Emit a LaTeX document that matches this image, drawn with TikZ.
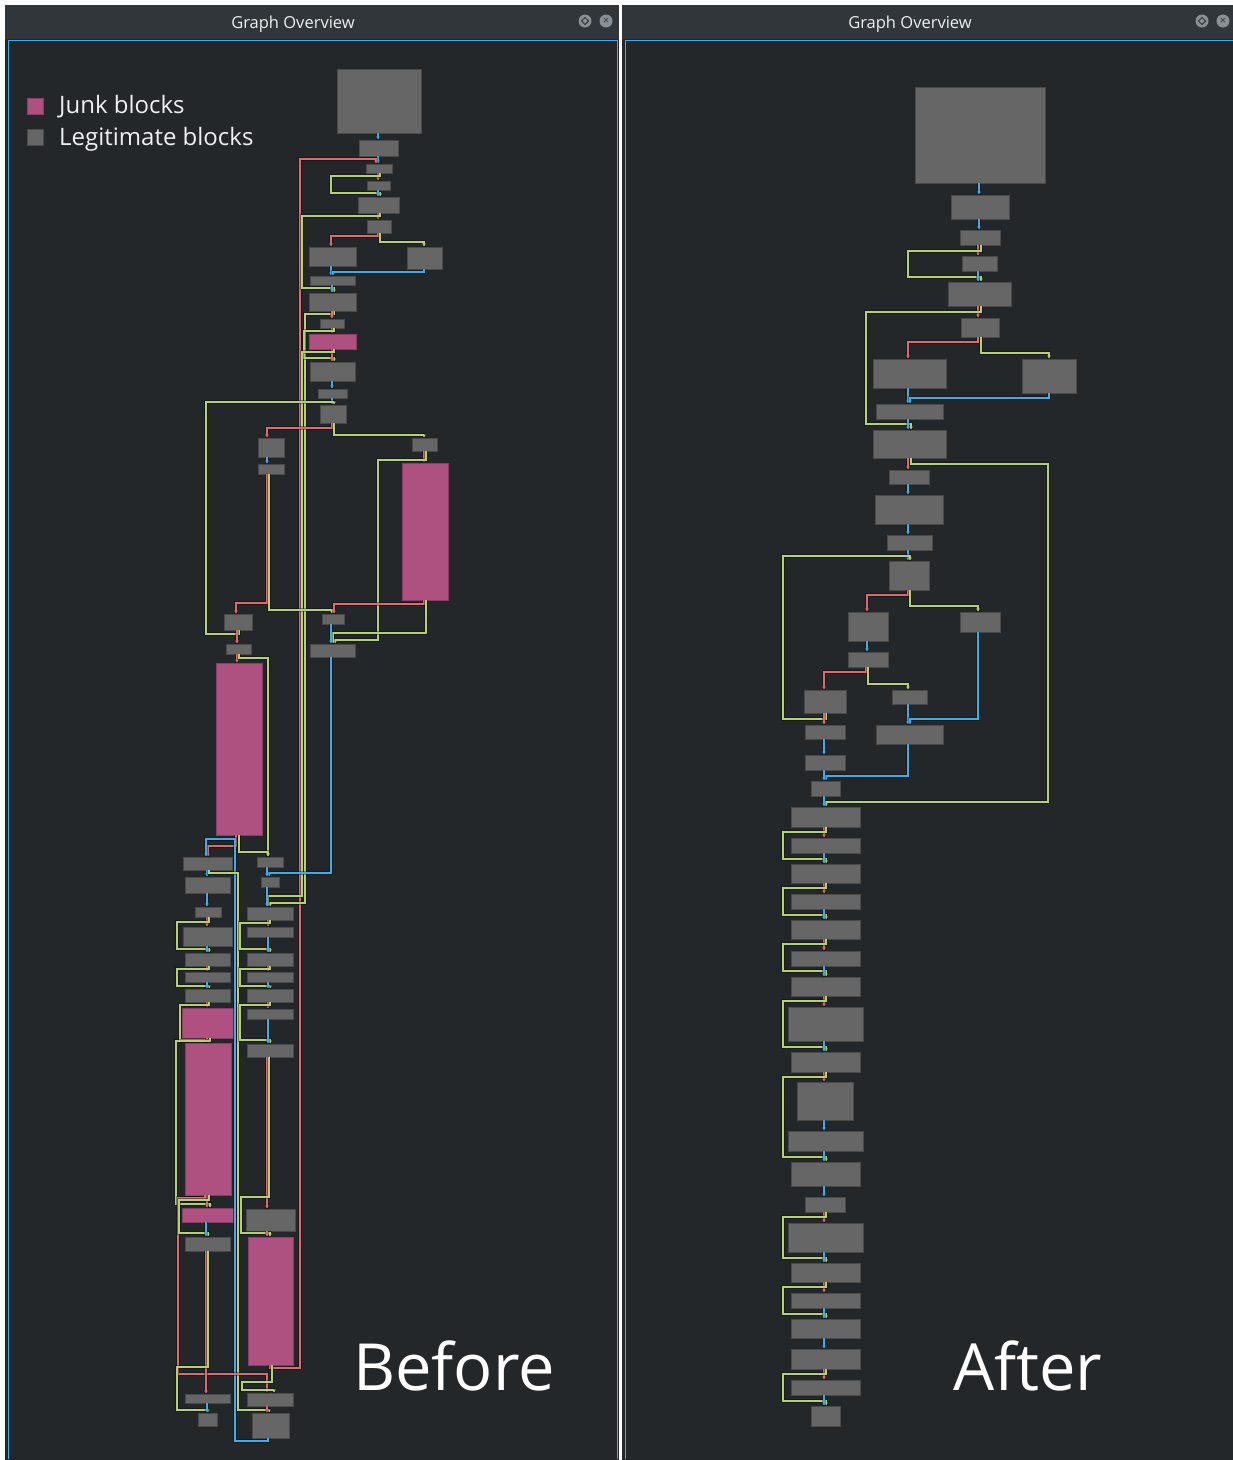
\documentclass[tikz,border=0pt]{standalone}
\usepackage{fontspec}
\setmainfont{Open Sans}
\usepackage{xcolor}
\usetikzlibrary{arrows.meta,positioning,fit}
\definecolor{viewbg}{HTML}{24272A}
\definecolor{titlebar}{HTML}{31363B}
\definecolor{framecyan}{HTML}{3DAEE9}
\definecolor{titletext}{HTML}{EFF0F1}
\definecolor{btngray}{HTML}{8A9094}
\definecolor{legitfill}{HTML}{666666}
\definecolor{legitline}{HTML}{4A4A4A}
\definecolor{junkfill}{HTML}{AE5181}
\definecolor{junkline}{HTML}{8A3D66}
\definecolor{edgered}{HTML}{DE6A6E}
\definecolor{edgegreen}{HTML}{B6D26C}
\definecolor{edgeblue}{HTML}{3DAEE9}
\tikzset{
  legit/.style={
    rectangle, draw=legitline, fill=legitfill, line width=0.8pt,
    inner sep=0pt
  },
  junk/.style={
    rectangle, draw=junkline, fill=junkfill, line width=0.8pt,
    inner sep=0pt
  },
  flowedge/.style={
    line width=1.7pt, -{Latex[length=3pt,width=4pt]},
    preaction={draw=black, opacity=0.35, line width=3.2pt, arrows=-}
  },
  redge/.style={flowedge, color=edgered},
  gedge/.style={flowedge, color=edgegreen},
  bedge/.style={flowedge, color=edgeblue},
  paneltitle/.style={
    text=titletext, inner sep=0pt, anchor=base,
    font=\fontsize{16.5}{19}\selectfont
  },
  winbtn/.style={circle, fill=btngray, minimum size=13pt, inner sep=0pt},
  keytext/.style={
    text=titletext, inner sep=0pt, anchor=base west,
    font=\fontsize{24}{27}\selectfont
  },
  bigword/.style={
    text=white, inner sep=0pt, anchor=base west,
    font=\fontsize{65}{70}\selectfont
  },
}
\begin{document}
\begin{tikzpicture}[x=1pt, y=-1pt]
  \useasboundingbox (0,0) rectangle (1233,1460);
  \fill[white] (0,0) rectangle (1233,1460);
  \fill[titlebar] (5,5) rectangle (619,39);
  \fill[viewbg] (5,39) rectangle (619,1460);
  \draw[framecyan, line width=1pt] (8,1459) -- (8,40) -- (617,40) -- (617,1459);
  \fill[titlebar] (622,5) rectangle (1233,39);
  \fill[viewbg] (622,39) rectangle (1233,1460);
  \draw[framecyan, line width=1pt] (625,1459) -- (625,40) -- (1233,40);

  \node[paneltitle] (lefttitle) at (293,28) {Graph Overview};
  \node[winbtn] (leftfloat) at (585,21) {};
  \node[winbtn] (leftclose) at (606,21) {\fontsize{11}{11}\selectfont\color{titlebar}×};
  \node[draw=titlebar, line width=1pt, rotate=45, minimum size=5pt, inner sep=0pt] at (leftfloat) {};
  \node[paneltitle] (righttitle) at (910,28) {Graph Overview};
  \node[winbtn] (rightfloat) at (1202,21) {};
  \node[winbtn] (rightclose) at (1223,21) {\fontsize{11}{11}\selectfont\color{titlebar}×};
  \node[draw=titlebar, line width=1pt, rotate=45, minimum size=5pt, inner sep=0pt] at (rightfloat) {};

  \node[junk, fit={(27,98)(43,114)}] (keyjunk) {};
  \node[legit, fit={(27,129)(43,145)}] (keylegit) {};
  \node[keytext] (keyjunktext) at (59,113) {Junk blocks};
  \node[keytext] (keylegittext) at (59,145) {Legitimate blocks};

  \node[bigword] (beforeword) at (353,1390) {Before};
  \node[bigword] (afterword) at (953,1390) {After};

  \node[legit, fit={(337,69)(421,133)}] (b1) {};
  \node[legit, fit={(359,140)(398,156)}] (b2) {};
  \node[legit, fit={(366,164)(392,173)}] (b3) {};
  \node[legit, fit={(367,181)(390,190)}] (b4) {};
  \node[legit, fit={(358,197)(399,213)}] (b5) {};
  \node[legit, fit={(367,220)(391,233)}] (b6) {};
  \node[legit, fit={(309,247)(356,266)}] (b7) {};
  \node[legit, fit={(407,247)(442,269)}] (b8) {};
  \node[legit, fit={(310,276)(355,285)}] (b9) {};
  \node[legit, fit={(309,293)(356,311)}] (b10) {};
  \node[legit, fit={(320,319)(344,328)}] (b11) {};
  \node[junk, fit={(309,334)(356,349)}] (j1) {};
  \node[legit, fit={(310,362)(355,381)}] (b12) {};
  \node[legit, fit={(318,389)(347,398)}] (b13) {};
  \node[legit, fit={(320,405)(346,423)}] (b14) {};
  \node[legit, fit={(258,438)(284,457)}] (b15) {};
  \node[legit, fit={(412,438)(437,451)}] (b16) {};
  \node[legit, fit={(258,464)(284,474)}] (b17) {};
  \node[junk, fit={(402,463)(448,600)}] (j2) {};
  \node[legit, fit={(224,614)(252,630)}] (b18) {};
  \node[legit, fit={(322,614)(344,624)}] (b19) {};
  \node[legit, fit={(226,644)(251,654)}] (b20) {};
  \node[legit, fit={(310,644)(355,657)}] (b21) {};
  \node[junk, fit={(216,663)(262,835)}] (j3) {};
  \node[legit, fit={(183,857)(232,870)}] (b22) {};
  \node[legit, fit={(257,857)(283,867)}] (b23) {};
  \node[legit, fit={(185,877)(230,893)}] (b24) {};
  \node[legit, fit={(261,877)(279,887)}] (b25) {};
  \node[legit, fit={(195,907)(221,917)}] (b26) {};
  \node[legit, fit={(247,907)(293,920)}] (b27) {};
  \node[legit, fit={(183,927)(232,946)}] (b28) {};
  \node[legit, fit={(247,927)(293,937)}] (b29) {};
  \node[legit, fit={(185,953)(230,966)}] (b30) {};
  \node[legit, fit={(247,953)(293,966)}] (b31) {};
  \node[legit, fit={(185,972)(230,982)}] (b32) {};
  \node[legit, fit={(247,972)(293,982)}] (b33) {};
  \node[legit, fit={(185,989)(230,1002)}] (b34) {};
  \node[legit, fit={(247,989)(293,1002)}] (b35) {};
  \node[junk, fit={(182,1008)(233,1038)}] (j4) {};
  \node[legit, fit={(247,1009)(293,1019)}] (b36) {};
  \node[junk, fit={(185,1043)(231,1195)}] (j5) {};
  \node[legit, fit={(247,1044)(293,1057)}] (b37) {};
  \node[junk, fit={(182,1208)(233,1222)}] (j6) {};
  \node[legit, fit={(246,1209)(295,1231)}] (b38) {};
  \node[legit, fit={(185,1237)(230,1251)}] (b39) {};
  \node[junk, fit={(248,1237)(293,1365)}] (j7) {};
  \node[legit, fit={(185,1394)(230,1403)}] (b40) {};
  \node[legit, fit={(247,1393)(293,1406)}] (b41) {};
  \node[legit, fit={(198,1413)(217,1426)}] (b42) {};
  \node[legit, fit={(252,1413)(289,1438)}] (b43) {};

  \draw[bedge] (b1.south -| 378,0) -- (b2.north -| 378,0);
  \draw[bedge] (b2.south -| 378,0) -- (b3.north -| 378,0);
  \draw[redge] (j7.south -| 270,0) -- (270,1368) -- (300,1368) -- (300,159) -- (376,159) -- (b3.north -| 376,0);
  \draw[redge] (b3.south -| 378,0) -- (b4.north -| 378,0);
  \draw[gedge] (b3.south -| 380,0) -- (380,176) -- (331,176) -- (331,193) -- (380,193) -- (b5.north -| 380,0);
  \draw[bedge] (b4.south -| 378,0) -- (b5.north -| 378,0);
  \draw[redge] (b5.south -| 378,0) -- (b6.north -| 378,0);
  \draw[gedge] (b5.south -| 380,0) -- (380,216) -- (302,216) -- (302,288) -- (334,288) -- (b10.north -| 334,0);
  \draw[redge] (b6.south -| 378,0) -- (378,236) -- (331,236) -- (b7.north -| 331,0);
  \draw[gedge] (b6.south -| 380,0) -- (380,242) -- (424,242) -- (b8.north -| 424,0);
  \draw[bedge] (b7.south -| 331,0) -- (b9.north -| 331,0);
  \draw[bedge] (b8.south -| 424,0) -- (424,272) -- (333,272) -- (b9.north -| 333,0);
  \draw[bedge] (b9.south -| 332,0) -- (b10.north -| 332,0);
  \draw[gedge] (b10.south -| 334,0) -- (334,314) -- (305,314) -- (305,903) -- (270,903) -- (b27.north -| 270,0);
  \draw[redge] (b10.south -| 332,0) -- (b11.north -| 332,0);
  \draw[redge] (b11.south -| 332,0) -- (j1.north -| 332,0);
  \draw[gedge] (b11.south -| 334,0) -- (334,331) -- (304,331) -- (304,358) -- (334,358) -- (b12.north -| 334,0);
  \draw[redge] (j1.south -| 332,0) -- (b12.north -| 332,0);
  \draw[gedge] (j1.south -| 334,0) -- (334,352) -- (302,352) -- (302,896) -- (268,896) -- (b27.north -| 268,0);
  \draw[bedge] (b12.south -| 332,0) -- (b13.north -| 332,0);
  \draw[bedge] (b13.south -| 332,0) -- (b14.north -| 332,0);
  \draw[gedge] (b18.south -| 239,0) -- (239,634) -- (206,634) -- (206,402) -- (334,402) -- (b14.north -| 334,0);
  \draw[redge] (b14.south -| 332,0) -- (332,428) -- (267,428) -- (b15.north -| 267,0);
  \draw[gedge] (b14.south -| 334,0) -- (334,435) -- (424,435) -- (b16.north -| 424,0);
  \draw[bedge] (b15.south -| 267,0) -- (b17.north -| 267,0);
  \draw[redge] (b17.south -| 267,0) -- (267,603) -- (236,603) -- (b18.north -| 236,0);
  \draw[gedge] (b17.south -| 269,0) -- (269,610) -- (332,610) -- (b19.north -| 332,0);
  \draw[redge] (b16.south -| 424,0) -- (j2.north -| 424,0);
  \draw[gedge] (b16.south -| 426,0) -- (426,460) -- (378,460) -- (378,640) -- (335,640) -- (b21.north -| 335,0);
  \draw[redge] (j2.south -| 424,0) -- (424,604) -- (334,604) -- (b19.north -| 334,0);
  \draw[gedge] (j2.south -| 426,0) -- (426,633) -- (333,633) -- (b21.north -| 333,0);
  \draw[bedge] (b19.south -| 331,0) -- (b21.north -| 331,0);
  \draw[redge] (b18.south -| 237,0) -- (b20.north -| 237,0);
  \draw[redge] (b20.south -| 237,0) -- (j3.north -| 237,0);
  \draw[gedge] (b20.south -| 239,0) -- (239,658) -- (268,658) -- (268,852) -- (b23.north -| 268,0);
  \draw[gedge] (j3.south -| 239,0) -- (239,852) -- (268,852) -- (b23.north -| 268,0);
  \draw[redge] (j3.south -| 236,0) -- (236,846) -- (208,846) -- (b22.north -| 208,0);
  \draw[bedge] (b43.south -| 268,0) -- (268,1441) -- (235,1441) -- (235,839) -- (206,839) -- (b22.north -| 206,0);
  \draw[bedge] (b21.south -| 331,0) -- (331,873) -- (269,873) -- (b25.north -| 269,0);
  \draw[bedge] (b23.south -| 267,0) -- (b25.north -| 267,0);
  \draw[bedge] (b22.south -| 207,0) -- (b24.north -| 207,0);
  \draw[gedge] (b22.south -| 209,0) -- (209,873) -- (238,873) -- (238,1410) -- (269,1410) -- (b43.north -| 269,0);
  \draw[bedge] (b25.south -| 267,0) -- (b27.north -| 267,0);
  \draw[bedge] (b24.south -| 207,0) -- (b26.north -| 207,0);
  \draw[redge] (b26.south -| 207,0) -- (b28.north -| 207,0);
  \draw[gedge] (b26.south -| 209,0) -- (209,922) -- (177,922) -- (177,949) -- (209,949) -- (b30.north -| 209,0);
  \draw[bedge] (b28.south -| 207,0) -- (b30.north -| 207,0);
  \draw[redge] (b30.south -| 207,0) -- (b32.north -| 207,0);
  \draw[gedge] (b30.south -| 209,0) -- (209,969) -- (177,969) -- (177,986) -- (209,986) -- (b34.north -| 209,0);
  \draw[bedge] (b32.south -| 207,0) -- (b34.north -| 207,0);
  \draw[redge] (b34.south -| 207,0) -- (j4.north -| 207,0);
  \draw[gedge] (b34.south -| 209,0) -- (209,1005) -- (180,1005) -- (180,1040) -- (209,1040) -- (j5.north -| 209,0);
  \draw[redge] (j4.south -| 207,0) -- (j5.north -| 207,0);
  \draw[gedge] (j4.south -| 210,0) -- (210,1041) -- (176,1041) -- (176,1204) -- (210,1204) -- (j6.north -| 210,0);
  \draw[redge] (j5.south -| 207,0) -- (j6.north -| 207,0);
  \draw[redge] (j5.south -| 205,0) -- (205,1198) -- (178,1198) -- (178,1374) -- (267,1374) -- (b41.north -| 267,0);
  \draw[gedge] (j5.south -| 209,0) -- (209,1200) -- (179,1200) -- (179,1233) -- (208,1233) -- (b39.north -| 208,0);
  \draw[bedge] (j6.south -| 206,0) -- (b39.north -| 206,0);
  \draw[redge] (b39.south -| 206,0) -- (b40.north -| 206,0);
  \draw[gedge] (b39.south -| 208,0) -- (208,1367) -- (177,1367) -- (177,1410) -- (208,1410) -- (b42.north -| 208,0);
  \draw[bedge] (b40.south -| 207,0) -- (b42.north -| 207,0);
  \draw[redge] (b27.south -| 268,0) -- (b29.north -| 268,0);
  \draw[gedge] (b27.south -| 270,0) -- (270,923) -- (240,923) -- (240,949) -- (270,949) -- (b31.north -| 270,0);
  \draw[bedge] (b29.south -| 268,0) -- (b31.north -| 268,0);
  \draw[redge] (b31.south -| 268,0) -- (b33.north -| 268,0);
  \draw[gedge] (b31.south -| 270,0) -- (270,969) -- (240,969) -- (240,986) -- (270,986) -- (b35.north -| 270,0);
  \draw[bedge] (b33.south -| 268,0) -- (b35.north -| 268,0);
  \draw[redge] (b35.south -| 268,0) -- (b36.north -| 268,0);
  \draw[gedge] (b35.south -| 270,0) -- (270,1005) -- (240,1005) -- (240,1040) -- (270,1040) -- (b37.north -| 270,0);
  \draw[bedge] (b36.south -| 268,0) -- (b37.north -| 268,0);
  \draw[redge] (b37.south -| 267,0) -- (b38.north -| 267,0);
  \draw[gedge] (b37.south -| 269,0) -- (269,1197) -- (241,1197) -- (241,1233) -- (270,1233) -- (j7.north -| 270,0);
  \draw[redge] (b38.south -| 267,0) -- (j7.north -| 267,0);
  \draw[gedge] (j7.south -| 272,0) -- (272,1382) -- (242,1382) -- (242,1390) -- (274,1390) -- (b41.north -| 274,0);
  \draw[redge] (b41.south -| 267,0) -- (b43.north -| 267,0);

  \node[legit, fit={(915,87)(1045,183)}] (a1) {};
  \node[legit, fit={(951,195)(1009,219)}] (a2) {};
  \node[legit, fit={(960,230)(1000,245)}] (a3) {};
  \node[legit, fit={(962,256)(997,271)}] (a4) {};
  \node[legit, fit={(948,282)(1011,306)}] (a5) {};
  \node[legit, fit={(961,318)(999,337)}] (a6) {};
  \node[legit, fit={(873,359)(946,388)}] (a7) {};
  \node[legit, fit={(1022,359)(1076,393)}] (a8) {};
  \node[legit, fit={(876,404)(943,419)}] (a9) {};
  \node[legit, fit={(873,430)(946,458)}] (a10) {};
  \node[legit, fit={(889,470)(929,484)}] (a11) {};
  \node[legit, fit={(875,495)(943,524)}] (a12) {};
  \node[legit, fit={(887,535)(932,550)}] (a13) {};
  \node[legit, fit={(889,561)(929,590)}] (a14) {};
  \node[legit, fit={(848,612)(888,641)}] (a15) {};
  \node[legit, fit={(960,612)(1000,632)}] (a16) {};
  \node[legit, fit={(848,652)(888,667)}] (a17) {};
  \node[legit, fit={(804,690)(846,713)}] (a18) {};
  \node[legit, fit={(892,690)(927,704)}] (a19) {};
  \node[legit, fit={(805,725)(845,739)}] (a20) {};
  \node[legit, fit={(876,725)(943,744)}] (a21) {};
  \node[legit, fit={(805,755)(845,770)}] (a22) {};
  \node[legit, fit={(811,781)(840,796)}] (a23) {};
  \node[legit, fit={(791,807)(860,827)}] (a24) {};
  \node[legit, fit={(791,838)(860,853)}] (a25) {};
  \node[legit, fit={(791,864)(860,883)}] (a26) {};
  \node[legit, fit={(791,894)(860,909)}] (a27) {};
  \node[legit, fit={(791,920)(860,939)}] (a28) {};
  \node[legit, fit={(791,951)(860,966)}] (a29) {};
  \node[legit, fit={(791,977)(860,996)}] (a30) {};
  \node[legit, fit={(788,1007)(863,1041)}] (a31) {};
  \node[legit, fit={(791,1052)(860,1072)}] (a32) {};
  \node[legit, fit={(797,1082)(853,1120)}] (a33) {};
  \node[legit, fit={(788,1131)(863,1151)}] (a34) {};
  \node[legit, fit={(791,1162)(860,1186)}] (a35) {};
  \node[legit, fit={(805,1197)(845,1212)}] (a36) {};
  \node[legit, fit={(788,1223)(863,1252)}] (a37) {};
  \node[legit, fit={(791,1263)(860,1282)}] (a38) {};
  \node[legit, fit={(791,1293)(860,1308)}] (a39) {};
  \node[legit, fit={(791,1319)(860,1338)}] (a40) {};
  \node[legit, fit={(791,1349)(860,1369)}] (a41) {};
  \node[legit, fit={(791,1380)(860,1395)}] (a42) {};
  \node[legit, fit={(811,1406)(840,1426)}] (a43) {};

  \draw[bedge] (a1.south -| 979,0) -- (a2.north -| 979,0);
  \draw[bedge] (a2.south -| 979,0) -- (a3.north -| 979,0);
  \draw[redge] (a3.south -| 978,0) -- (a4.north -| 978,0);
  \draw[gedge] (a3.south -| 981,0) -- (981,251) -- (908,251) -- (908,277) -- (981,277) -- (a5.north -| 981,0);
  \draw[bedge] (a4.south -| 978,0) -- (a5.north -| 978,0);
  \draw[redge] (a5.south -| 978,0) -- (a6.north -| 978,0);
  \draw[gedge] (a5.south -| 981,0) -- (981,312) -- (866,312) -- (866,424) -- (911,424) -- (a10.north -| 911,0);
  \draw[redge] (a6.south -| 978,0) -- (978,342) -- (908,342) -- (a7.north -| 908,0);
  \draw[gedge] (a6.south -| 981,0) -- (981,353) -- (1049,353) -- (a8.north -| 1049,0);
  \draw[bedge] (a7.south -| 908,0) -- (a9.north -| 908,0);
  \draw[bedge] (a8.south -| 1049,0) -- (1049,398) -- (910,398) -- (a9.north -| 910,0);
  \draw[bedge] (a9.south -| 908,0) -- (a10.north -| 908,0);
  \draw[redge] (a10.south -| 908,0) -- (a11.north -| 908,0);
  \draw[gedge] (a10.south -| 911,0) -- (911,464) -- (1048,464) -- (1048,802) -- (826,802) -- (a24.north -| 826,0);
  \draw[bedge] (a11.south -| 908,0) -- (a12.north -| 908,0);
  \draw[bedge] (a12.south -| 908,0) -- (a13.north -| 908,0);
  \draw[bedge] (a13.south -| 908,0) -- (a14.north -| 908,0);
  \draw[gedge] (a18.south -| 826,0) -- (826,719) -- (783,719) -- (783,556) -- (910,556) -- (a14.north -| 910,0);
  \draw[redge] (a14.south -| 908,0) -- (908,595) -- (867,595) -- (a15.north -| 867,0);
  \draw[gedge] (a14.south -| 910,0) -- (910,606) -- (978,606) -- (a16.north -| 978,0);
  \draw[bedge] (a15.south -| 867,0) -- (a17.north -| 867,0);
  \draw[redge] (a17.south -| 866,0) -- (866,672) -- (824,672) -- (a18.north -| 824,0);
  \draw[gedge] (a17.south -| 868,0) -- (868,684) -- (908,684) -- (a19.north -| 908,0);
  \draw[redge] (a18.south -| 824,0) -- (a20.north -| 824,0);
  \draw[bedge] (a19.south -| 908,0) -- (a21.north -| 908,0);
  \draw[bedge] (a16.south -| 978,0) -- (978,719) -- (910,719) -- (a21.north -| 910,0);
  \draw[bedge] (a20.south -| 824,0) -- (a22.north -| 824,0);
  \draw[bedge] (a21.south -| 908,0) -- (908,776) -- (826,776) -- (a23.north -| 826,0);
  \draw[bedge] (a22.south -| 824,0) -- (a23.north -| 824,0);
  \draw[bedge] (a23.south -| 824,0) -- (a24.north -| 824,0);
  \draw[redge] (a24.south -| 824,0) -- (a25.north -| 824,0);
  \draw[gedge] (a24.south -| 826,0) -- (826,832) -- (783,832) -- (783,859) -- (826,859) -- (a26.north -| 826,0);
  \draw[bedge] (a25.south -| 824,0) -- (a26.north -| 824,0);
  \draw[redge] (a26.south -| 824,0) -- (a27.north -| 824,0);
  \draw[gedge] (a26.south -| 826,0) -- (826,888) -- (783,888) -- (783,915) -- (826,915) -- (a28.north -| 826,0);
  \draw[bedge] (a27.south -| 824,0) -- (a28.north -| 824,0);
  \draw[redge] (a28.south -| 824,0) -- (a29.north -| 824,0);
  \draw[gedge] (a28.south -| 826,0) -- (826,944) -- (783,944) -- (783,971) -- (826,971) -- (a30.north -| 826,0);
  \draw[bedge] (a29.south -| 824,0) -- (a30.north -| 824,0);
  \draw[redge] (a30.south -| 824,0) -- (a31.north -| 824,0);
  \draw[gedge] (a30.south -| 826,0) -- (826,1001) -- (783,1001) -- (783,1047) -- (826,1047) -- (a32.north -| 826,0);
  \draw[bedge] (a31.south -| 824,0) -- (a32.north -| 824,0);
  \draw[redge] (a32.south -| 824,0) -- (a33.north -| 824,0);
  \draw[gedge] (a32.south -| 826,0) -- (826,1077) -- (783,1077) -- (783,1157) -- (826,1157) -- (a35.north -| 826,0);
  \draw[bedge] (a33.south -| 824,0) -- (a34.north -| 824,0);
  \draw[bedge] (a34.south -| 824,0) -- (a35.north -| 824,0);
  \draw[bedge] (a35.south -| 824,0) -- (a36.north -| 824,0);
  \draw[redge] (a36.south -| 824,0) -- (a37.north -| 824,0);
  \draw[gedge] (a36.south -| 826,0) -- (826,1217) -- (783,1217) -- (783,1258) -- (826,1258) -- (a38.north -| 826,0);
  \draw[bedge] (a37.south -| 824,0) -- (a38.north -| 824,0);
  \draw[redge] (a38.south -| 824,0) -- (a39.north -| 824,0);
  \draw[gedge] (a38.south -| 826,0) -- (826,1287) -- (783,1287) -- (783,1314) -- (826,1314) -- (a40.north -| 826,0);
  \draw[bedge] (a39.south -| 824,0) -- (a40.north -| 824,0);
  \draw[bedge] (a40.south -| 824,0) -- (a41.north -| 824,0);
  \draw[redge] (a41.south -| 824,0) -- (a42.north -| 824,0);
  \draw[gedge] (a41.south -| 826,0) -- (826,1374) -- (783,1374) -- (783,1401) -- (826,1401) -- (a43.north -| 826,0);
  \draw[bedge] (a42.south -| 824,0) -- (a43.north -| 824,0);
\end{tikzpicture}
\end{document}
